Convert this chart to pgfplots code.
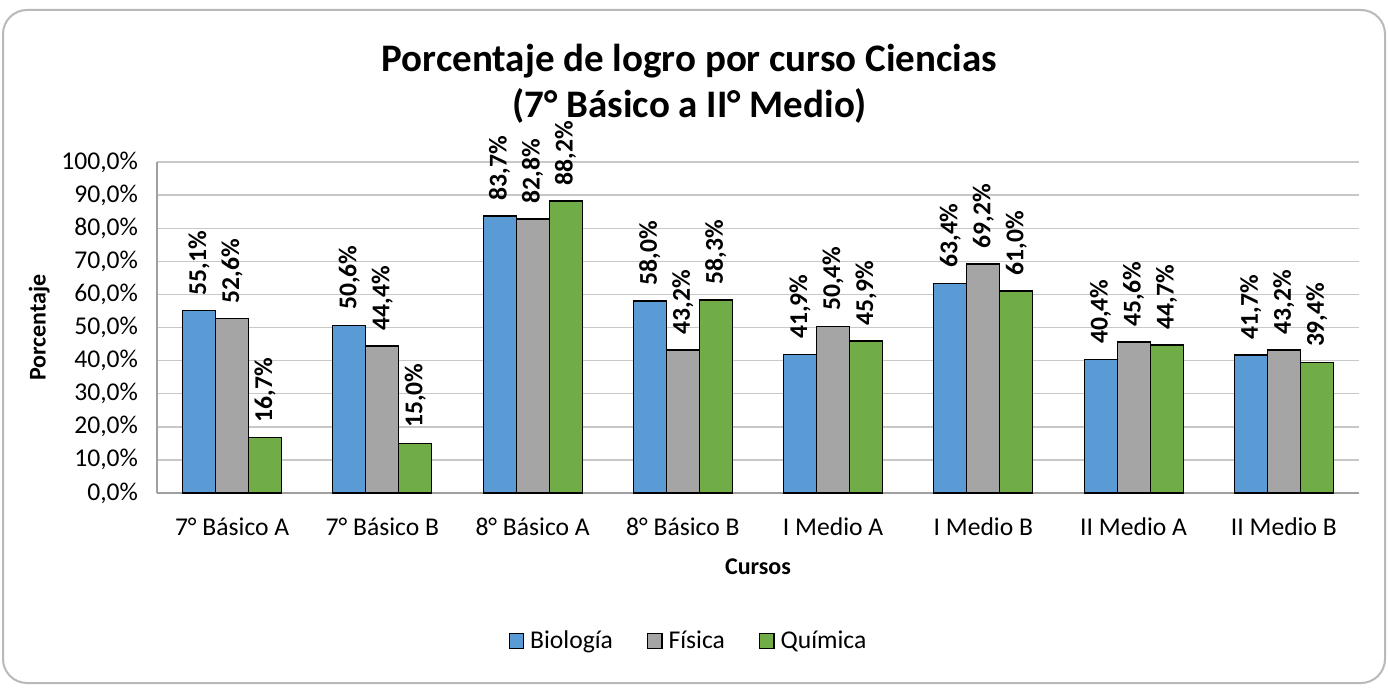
\documentclass[border=0pt]{standalone}
\usepackage{pgfplots}
\pgfplotsset{compat=1.18}
\usepackage{fontspec}
\setmainfont{Carlito}
\definecolor{cBio}{HTML}{5B9BD5}
\definecolor{cFis}{HTML}{A5A5A5}
\definecolor{cQui}{HTML}{70AD47}
\definecolor{cGrid}{HTML}{C8C8C8}
\definecolor{cAxis}{HTML}{A0A0A0}
\begin{document}
\begin{tikzpicture}
\path (0,0) rectangle (694pt,343.5pt);
\draw[draw=gray!55, line width=1pt, rounded corners=12pt] (1.5pt,2pt) rectangle (692.5pt,338.5pt);
\begin{axis}[
  at={(78.5pt,97pt)}, anchor=south west,
  scale only axis, width=601pt, height=165.5pt,
  ymin=0, ymax=100, ytick={0,10,...,100},
  xmin=-0.5, xmax=7.5, xtick=data,
  xticklabels={7° Básico A,7° Básico B,8° Básico A,8° Básico B,I Medio A,I Medio B,II Medio A,II Medio B},
  ymajorgrids, grid style={draw=cGrid, line width=0.7pt},
  axis lines*=left, axis line style={draw=cAxis, line width=0.8pt, -},
  major tick length=0pt,
  /pgf/number format/assume math mode=true,
  /pgf/number format/use comma,
  yticklabel={\pgfmathprintnumber[fixed,fixed zerofill,precision=1]{\tick}\%},
  ticklabel style={font=\fontsize{12.8}{14}\selectfont},
  yticklabel style={xshift=-6pt},
  xticklabel style={yshift=-9pt},
  ylabel={Porcentaje}, xlabel={Cursos},
  label style={font=\bfseries\fontsize{12}{14}\selectfont},
  xlabel style={yshift=-4.5pt},
  ylabel style={yshift=-1pt},
  title={Porcentaje de logro por curso Ciencias\\(7° Básico a II° Medio)},
  title style={at={(axis description cs:0.443,1)}, anchor=center, yshift=33pt, align=center, font=\bfseries\fontsize{19.5}{23}\selectfont},
  ybar, bar width=16.5pt,
  nodes near coords={\pgfmathprintnumber[fixed,fixed zerofill,precision=1]{\pgfplotspointmeta}\%},
  every node near coord/.append style={rotate=90, anchor=west, inner xsep=7.5pt, inner ysep=0pt, font=\bfseries\fontsize{12.8}{14}\selectfont, black},
  legend style={at={(axis description cs:0.443,0)}, anchor=center, yshift=-74pt, draw=none, legend columns=-1, font=\fontsize{12.8}{14}\selectfont, /tikz/every even column/.append style={column sep=15pt}, /tikz/every odd column/.append style={column sep=1pt}},
  legend image code/.code={\draw[#1, draw=black, line width=0.6pt] (0pt,-3.6pt) rectangle (7.2pt,3.6pt);},
]
\addplot[fill=cBio, draw=black, line width=0.6pt, bar shift=-16.5pt] coordinates {(0,55.1) (1,50.6) (2,83.7) (3,58.0) (4,41.9) (5,63.4) (6,40.4) (7,41.7)};
\addplot[fill=cFis, draw=black, line width=0.6pt, bar shift=0pt] coordinates {(0,52.6) (1,44.4) (2,82.8) (3,43.2) (4,50.4) (5,69.2) (6,45.6) (7,43.2)};
\addplot[fill=cQui, draw=black, line width=0.6pt, bar shift=16.5pt] coordinates {(0,16.7) (1,15.0) (2,88.2) (3,58.3) (4,45.9) (5,61.0) (6,44.7) (7,39.4)};
\legend{Biología,Física,Química}
\end{axis}
\end{tikzpicture}
\end{document}
